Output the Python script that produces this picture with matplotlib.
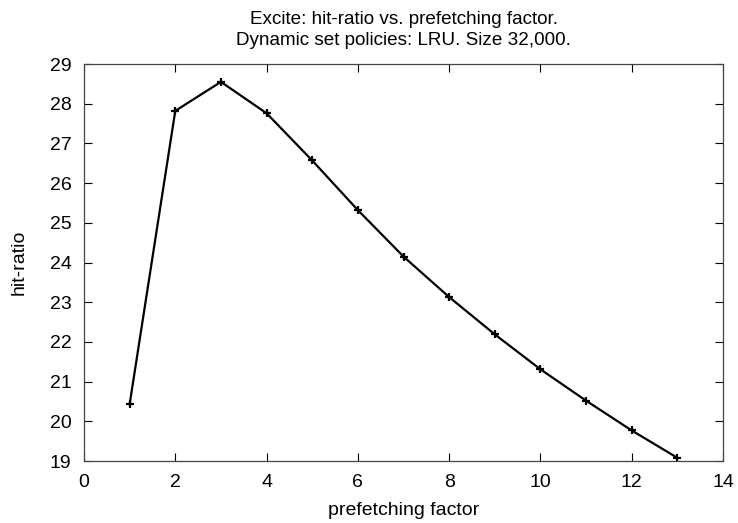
import matplotlib
matplotlib.use("Agg")
import matplotlib.pyplot as plt

factor = [1, 2, 3, 4, 5, 6, 7, 8, 9, 10, 11, 12, 13]
hit_ratio = [20.43, 27.82, 28.55, 27.76, 26.57, 25.32, 24.15, 23.13,
             22.19, 21.31, 20.52, 19.77, 19.08]

plt.rcParams['font.family'] = ['Liberation Sans', 'DejaVu Sans']

fig = plt.figure(figsize=(7.38, 5.23), dpi=100)
ax = fig.add_axes([0.1138, 0.1185, 0.8659, 0.7591])
ax.plot(factor, hit_ratio, color='black', linewidth=1.6,
        marker='+', markersize=6, markeredgewidth=1.6)

ax.set_xlim(0, 14)
ax.set_ylim(19, 29)
ax.set_xticks(range(0, 15, 2))
ax.set_yticks(range(19, 30))
ax.tick_params(direction='in', top=True, right=True, labelsize=14,
               length=6, width=0.8, pad=9)
for s in ax.spines.values():
    s.set_linewidth(0.9)
    s.set_color('#444444')

ax.set_xlabel('prefetching factor', fontsize=14, labelpad=8)
ax.set_ylabel('hit-ratio', fontsize=14, labelpad=16)
ax.set_title('Excite: hit-ratio vs. prefetching factor.\n'
             'Dynamic set policies: LRU. Size 32,000.',
             fontsize=13.6, linespacing=1.3, pad=14)

fig.savefig('out.png', dpi=100)
